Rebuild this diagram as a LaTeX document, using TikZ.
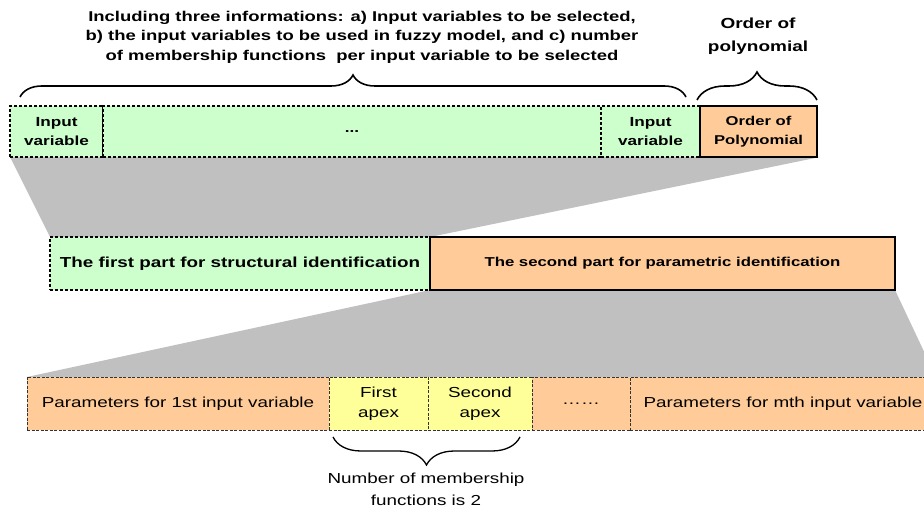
\documentclass[tikz,border=0pt]{standalone}
\usepackage{fontspec}
\setmainfont{Liberation Sans}[FakeStretch=1.3]
\usetikzlibrary{backgrounds,decorations.pathreplacing}
\definecolor{lightgreen}{HTML}{CCFFCC}
\definecolor{lightorange}{HTML}{FFCC99}
\definecolor{lightyellow}{HTML}{FFFF99}
\definecolor{wedgegray}{HTML}{C0C0C0}
\begin{document}
\begin{tikzpicture}[x=1pt, y=1pt,
  every node/.style = {inner sep=0pt, outer sep=0pt, align=center},
  cell/.style = {anchor=north west, draw, font=\bfseries\fontsize{13.2}{19}\selectfont},
  dashcell/.style = {cell, fill=lightgreen, line width=1.4pt,
    dash pattern=on 3pt off 2pt},
  solidcell/.style = {cell, fill=lightorange, line width=1.6pt},
  paramcell/.style = {anchor=north west, draw=black!80, line width=0.9pt,
    dash pattern=on 3pt off 1.5pt, minimum height=53pt,
    font=\fontsize{14.5}{20}\selectfont},
  curly/.style = {decorate, line width=1.6pt,
    decoration={brace, amplitude=#1}}]
  \useasboundingbox (0,0) rectangle (924,-510);
  \clip (0,0) rectangle (924,-510);
  % first row
  \node[dashcell, minimum width=93pt, minimum height=51pt] (iv1) at (10,-106) {Input\\variable};
  \node[dashcell, minimum width=498pt, minimum height=51pt] (ivdots) at (103,-106) {...};
  \node[dashcell, minimum width=99pt, minimum height=51pt] (ivn) at (601,-106) {Input\\variable};
  \node[solidcell, minimum width=117pt, minimum height=51pt,
    font=\bfseries\fontsize{12.8}{19}\selectfont] (order) at (700,-106) {Order of\\Polynomial};
  % second row
  \node[dashcell, minimum width=380pt, minimum height=53pt,
    font=\bfseries\fontsize{14.5}{17}\selectfont] (structpart) at (50,-237)
    {The first part for structural identification};
  \node[solidcell, minimum width=465pt, minimum height=53pt,
    font=\bfseries\fontsize{12.9}{17}\selectfont] (parampart) at (430,-237)
    {The second part for parametric identification};
  % third row
  \node[paramcell, fill=lightorange, minimum width=302pt] (par1) at (27,-377)
    {Parameters for 1st input variable};
  \node[paramcell, fill=lightyellow, minimum width=99pt] (apex1) at (329,-377) {First\\apex};
  \node[paramcell, fill=lightyellow, minimum width=104pt] (apex2) at (428,-377) {Second\\apex};
  \node[paramcell, fill=lightorange, minimum width=98pt] (pardots) at (532,-377) {……};
  \node[paramcell, fill=lightorange, minimum width=306pt] (parm) at (630,-377)
    {Parameters for mth input variable};
  % zoom wedges
  \begin{scope}[on background layer]
    \fill[wedgegray] (iv1.south west) -- ([xshift=3pt]order.south east)
      -- (parampart.north west) -- (structpart.north west) -- cycle;
    \fill[wedgegray] (parampart.south west) -- (parampart.south east)
      -- (parm.north east) -- (par1.north west) -- cycle;
  \end{scope}
  % braces and labels
  \draw[curly=22pt] ([xshift=10pt,yshift=9pt]iv1.north west)
    -- ([xshift=-14pt,yshift=9pt]ivn.north east);
  \draw[curly=28pt] ([xshift=-3pt,yshift=6pt]order.north west)
    -- ([yshift=6pt]order.north east);
  \draw[curly=28pt, line width=1.3pt, decoration={mirror}]
    ([xshift=4pt,yshift=-7pt]apex1.south west) -- ([xshift=-12pt,yshift=-7pt]apex2.south east);
  \node[font=\bfseries\fontsize{14.2}{19.5}\selectfont] (info) at (362,-37)
    {Including three informations: a) Input variables to be selected,\\
     b) the input variables to be used in fuzzy model, and c) number\\
     of membership functions\ \ per input variable to be selected};
  \node[font=\bfseries\fontsize{14.6}{23}\selectfont] (orderlbl) at (758,-36)
    {Order of\\polynomial};
  \node[font=\fontsize{14.5}{22}\selectfont] (mflbl) at (426,-489)
    {Number of membership\\functions is 2};
\end{tikzpicture}
\end{document}
